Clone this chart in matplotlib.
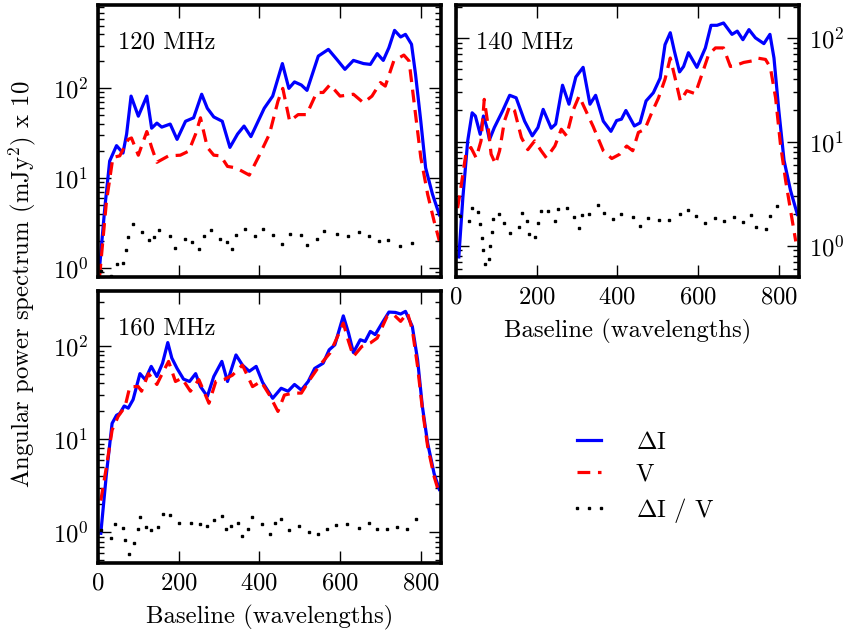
import numpy as np
import matplotlib.pyplot as plt

plt.rcParams.update({
    'font.family': 'serif',
    'font.serif': ['cmr10'],
    'mathtext.fontset': 'cm',
    'axes.formatter.use_mathtext': True,
    'font.size': 17.8,
})

# ---- 120 MHz ----
b120_x = [2, 17, 29, 46, 62, 71, 82, 100, 121, 133, 146, 158, 179, 196, 217, 237,
          257, 271, 287, 308, 327, 346, 362, 379, 412, 433, 457, 473, 487, 504, 518,
          546, 571, 592, 612, 633, 658, 675, 692, 707, 721, 735, 750, 762, 777, 787,
          800, 812, 829, 846]
b120_y = [0.8, 4.7, 15.5, 23, 19, 31, 82, 49, 82, 36, 41, 37, 40, 27, 43, 47,
          86, 60, 48, 43, 22, 31, 38, 29, 60, 82, 189, 100, 118, 109, 95,
          229, 272, 210, 163, 205, 189, 185, 244, 205, 284, 443, 374, 400, 310, 143,
          43, 13, 6.6, 3.9]
r120_x = [4, 21, 37, 54, 75, 83, 100, 121, 133, 146, 175, 204, 225, 242, 254, 271,
          287, 304, 321, 342, 375, 400, 425, 446, 458, 475, 496, 517, 542, 558, 575,
          600, 633, 658, 679, 700, 712, 733, 758, 771, 783, 800, 817, 833, 846]
r120_y = [0.8, 5.5, 17, 17.7, 27, 28, 18, 33, 22, 15, 17.7, 18, 20, 31, 47, 22,
          18, 17.7, 13.5, 13, 10.8, 18, 31, 72, 100, 43, 51, 51, 90, 90, 110,
          82, 86, 69, 82, 116, 106, 202, 235, 202, 72, 17, 6.6, 3.3, 2.0]
d120_x = [8, 33, 46, 61, 69, 75, 86, 108, 127, 140, 152, 178, 192, 215, 233, 250,
          262, 281, 302, 319, 332, 342, 365, 390, 410, 433, 455, 477, 502, 518, 542,
          561, 592, 619, 647, 671, 696, 719, 748, 778]
d120_y = [0.91, 0.81, 1.11, 1.14, 1.60, 2.22, 3.04, 2.50, 2.04, 2.20, 2.61, 2.25,
          1.67, 2.12, 1.95, 1.64, 2.25, 2.65, 2.12, 1.95, 1.64, 2.30, 2.72, 2.24,
          2.72, 2.30, 1.85, 2.39, 2.31, 1.79, 2.12, 2.56, 2.39, 2.25, 2.52, 2.25,
          1.98, 2.02, 1.75, 1.87]

# ---- 140 MHz ----
b140_x = [7, 17, 29, 40, 48, 60, 68, 76, 83, 95, 116, 133, 149, 170, 189, 203, 216,
          236, 247, 264, 280, 297, 315, 332, 346, 365, 384, 398, 410, 421, 442, 456,
          471, 489, 506, 518, 531, 541, 554, 564, 576, 597, 618, 632, 647, 663, 684,
          697, 711, 726, 742, 763, 778, 788, 800, 813, 829, 846]
b140_y = [0.78, 2.9, 10.2, 19, 17.7, 11.8, 17.7, 14, 10.5, 13.7, 20, 28, 26.5, 15.8,
          11.4, 13.7, 20.5, 13.5, 14.8, 35, 23, 42, 52, 23, 28, 15.8, 12.6, 16, 16.5,
          20, 14.2, 15.2, 24.7, 29.6, 41, 86, 112, 75, 47, 53, 72, 52, 80, 132, 132,
          139, 108, 116, 96, 120, 100, 88, 108, 64, 20, 6.6, 3.4, 2.0]
r140_x = [4, 12, 25, 37, 50, 62, 70, 79, 87, 98, 108, 120, 133, 145, 162, 178, 195,
          211, 224, 245, 261, 274, 290, 305, 319, 340, 365, 386, 406, 423, 438, 452,
          468, 485, 502, 518, 531, 543, 556, 572, 593, 609, 626, 643, 663, 680, 697,
          713, 734, 746, 767, 779, 792, 804, 817, 829, 842]
r140_y = [2.3, 3.6, 7.9, 8.8, 7.0, 10.2, 25.6, 14.8, 7.6, 6.1, 8.2, 15.8, 22, 20, 11,
          8.4, 10.2, 8.2, 7.0, 9.1, 13.2, 11.4, 20, 27.5, 21, 14, 8.2, 6.9, 7.6, 9.1,
          8.2, 12.3, 13.2, 19, 26.5, 40, 64, 41, 24.7, 31, 29, 44, 69, 80, 80, 53, 55,
          58, 60, 64, 62, 52, 26.5, 9.5, 4.2, 2.2, 1.1]
d140_x = [10, 31, 40, 54, 60, 64, 68, 73, 81, 85, 89, 91, 106, 120, 133, 155, 164,
          176, 182, 195, 203, 211, 228, 245, 253, 274, 292, 305, 313, 330, 352, 367,
          388, 410, 438, 456, 477, 502, 527, 554, 575, 595, 618, 643, 663, 688, 711,
          730, 743, 767, 779, 796]
d140_y = [1.94, 1.74, 2.33, 2.09, 1.61, 1.19, 0.90, 0.67, 0.74, 1.00, 1.36, 1.80,
          2.04, 1.64, 1.32, 1.53, 2.06, 1.71, 1.29, 1.20, 1.64, 2.14, 2.14, 1.71,
          2.25, 2.30, 1.90, 1.47, 1.97, 2.04, 2.48, 2.06, 1.80, 2.04, 1.90, 1.56,
          1.83, 1.78, 1.78, 2.01, 2.22, 1.94, 1.67, 1.85, 1.71, 1.91, 1.70, 1.99,
          1.50, 1.46, 1.94, 2.42]

# ---- 160 MHz ----
b160_x = [7, 21, 35, 46, 54, 65, 75, 87, 104, 117, 132, 146, 160, 173, 183, 196, 212,
          227, 242, 254, 271, 287, 307, 321, 342, 358, 375, 392, 408, 433, 454, 471,
          487, 504, 521, 537, 558, 573, 587, 608, 621, 633, 650, 662, 675, 687, 704,
          721, 737, 750, 762, 779, 792, 804, 817, 833, 846]
b160_y = [0.98, 4.3, 14.9, 18.2, 19, 22.9, 21.7, 26.8, 51, 44, 61, 47.5, 66, 110, 75,
          58, 44.5, 42, 51, 37, 29, 47.5, 69, 42, 81, 63, 54, 61, 41, 27.7, 35.5, 33,
          39, 34, 42, 58, 66, 92, 104, 213, 139, 86, 118, 113, 145, 134, 178, 234,
          232, 223, 238, 164, 72, 22.5, 9.1, 4.3, 2.9]
r160_x = [7, 21, 35, 50, 67, 79, 100, 108, 125, 146, 162, 175, 192, 208, 229, 250,
          275, 292, 312, 333, 358, 383, 404, 425, 446, 462, 483, 504, 525, 550, 575,
          592, 608, 621, 633, 654, 675, 692, 717, 733, 750, 767, 779, 792, 804, 817,
          833, 846]
r160_y = [2.2, 5.1, 12.6, 17.7, 22.4, 37, 37, 33, 51, 39, 54, 69, 42, 45.5, 33, 44,
          24.5, 42, 44, 49, 63, 37, 42, 30, 20, 30, 31.5, 31.5, 44, 63, 85, 123, 178,
          113, 78, 100, 109, 123, 213, 219, 186, 229, 151, 61, 21, 8.4, 4.0, 2.6]
d160_x = [8, 32, 42, 61, 68, 77, 90, 98, 104, 118, 132, 148, 160, 178, 202, 231, 252,
          271, 288, 308, 317, 329, 348, 358, 371, 382, 407, 427, 439, 454, 473, 498,
          523, 546, 567, 590, 618, 648, 671, 692, 717, 740, 767, 789]
d160_y = [1.06, 0.88, 1.22, 1.13, 0.83, 0.59, 0.78, 1.08, 1.45, 1.15, 1.06, 1.15,
          1.57, 1.56, 1.25, 1.25, 1.23, 1.18, 1.36, 1.51, 1.10, 1.17, 1.25, 0.91,
          1.08, 1.45, 1.23, 0.96, 1.25, 1.38, 1.06, 1.18, 1.02, 0.97, 1.08, 1.20,
          1.22, 1.12, 1.27, 1.09, 1.09, 1.15, 1.08, 1.38]

panels = [
    ('120 MHz', b120_x, b120_y, r120_x, r120_y, d120_x, d120_y, (0.79, 840)),
    ('140 MHz', b140_x, b140_y, r140_x, r140_y, d140_x, d140_y, (0.50, 205)),
    ('160 MHz', b160_x, b160_y, r160_x, r160_y, d160_x, d160_y, (0.47, 390)),
]

fig = plt.figure(figsize=(8.49, 6.33), dpi=100)
w, h = 0.404, 0.429
rects = [[0.1154, 0.5624, w, h],
         [0.5371, 0.5624, w, h],
         [0.1154, 0.1106, w, h]]

handles = None
for i, (name, bx, by, rx, ry, dx, dy, ylim) in enumerate(panels):
    ax = fig.add_axes(rects[i])
    l1, = ax.plot(bx, by, color='b', lw=2.3, label=r'$\Delta$I')
    l2, = ax.plot(rx, ry, color='r', lw=2.3, linestyle=(0, (4, 2.4)), label='V')
    l3, = ax.plot(dx, dy, color='k', ls='none', marker='s', ms=1.9,
                  label=r'$\Delta$I / V')
    handles = [l1, l2, l3]

    ax.set_yscale('log')
    ax.set_xlim(0, 850)
    ax.set_ylim(*ylim)
    ax.set_xticks([0, 200, 400, 600, 800])
    for spine in ax.spines.values():
        spine.set_linewidth(2.6)
    ax.tick_params(which='both', direction='in', top=True, right=True, width=1.0)
    ax.tick_params(which='major', length=9, pad=7)
    ax.tick_params(which='minor', length=4.5)
    ax.text(0.058, 0.865, name, transform=ax.transAxes, ha='left', va='center')

    if i == 0:
        ax.tick_params(labelbottom=False)
    if i == 1:
        ax.tick_params(which='both', labelleft=False, labelright=True)
    if i >= 1:
        ax.set_xlabel('Baseline (wavelengths)', labelpad=7.5)

fig.text(0.026, 0.551, r'Angular power spectrum (mJy$^2$) x 10',
         rotation=90, ha='center', va='center')

fig.legend(handles=handles, loc='center', bbox_to_anchor=(0.756, 0.245),
           frameon=False, numpoints=3, handlelength=1.6, handletextpad=1.1,
           labelspacing=0.4)

fig.savefig('out.png', dpi=100)
